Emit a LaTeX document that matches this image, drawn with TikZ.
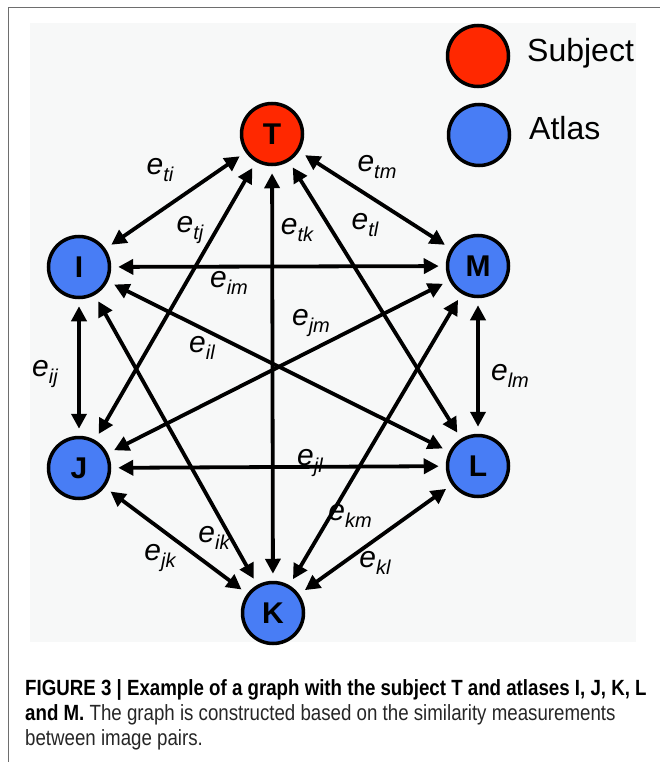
\documentclass[tikz,border=0pt]{standalone}
\usepackage{fontspec}
\setmainfont{Liberation Sans}
\newfontfamily\capfont[FakeStretch=0.85]{Liberation Sans}
\usetikzlibrary{arrows.meta}

\definecolor{subjred}{RGB}{255,40,0}
\definecolor{atlasblue}{RGB}{72,125,245}
\definecolor{panelgrey}{RGB}{247,248,248}
\definecolor{framegrey}{RGB}{110,110,110}

\newcommand{\elab}[1]{\itshape e\raisebox{-7pt}{\fontsize{20}{20}\selectfont #1}}

\tikzset{
  vert/.style={circle, draw, line width=3.5pt, minimum size=61pt, inner sep=0pt,
    font=\fontsize{30}{30}\selectfont\bfseries},
  subj/.style={vert, fill=subjred},
  atlas/.style={vert, fill=atlasblue},
  elabel/.style={inner sep=0pt, font=\fontsize{30}{30}\selectfont},
  edge/.style={line width=3.8pt, {Triangle[length=15pt,width=15pt]}-{Triangle[length=15pt,width=15pt]},
    shorten <=7pt, shorten >=7pt},
  capline/.style={anchor=base west, inner sep=0pt, font=\capfont\fontsize{22}{26}\selectfont}
}

\begin{document}
\begin{tikzpicture}[x=1pt, y=-1pt]
    \useasboundingbox (0,0) rectangle (660,762);
    \draw[framegrey, line width=1.5pt] (8.5,762) -- (8.5,7.5) -- (660,7.5);
    \fill[panelgrey] (30,23) rectangle (636,642);

    \node[subj] (T) at (272,134) {T};
    \node[atlas] (I) at (79,267) {I};
    \node[atlas] (M) at (478,266) {M};
    \node[atlas] (J) at (79,468) {J};
    \node[atlas] (L) at (478,466) {L};
    \node[atlas] (K) at (273,613) {K};

    \node[subj] (legS) at (478,56) {};
    \node[atlas] (legA) at (479,135) {};
    \node[anchor=base west, inner sep=0pt, font=\fontsize{32}{32}\selectfont] (subjtxt) at (527,62) {Subject};
    \node[anchor=base west, inner sep=0pt, font=\fontsize{32}{32}\selectfont] (atlastxt) at (529,140) {Atlas};

    \node[elabel] (eti) at (160,170) {\elab{ti}};
    \node[elabel] (etm) at (377,167) {\elab{tm}};
    \node[elabel] (etj) at (190,230) {\elab{tj}};
    \node[elabel] (etk) at (297,230) {\elab{tk}};
    \node[elabel] (etl) at (365,225) {\elab{tl}};
    \node[elabel] (eim) at (229,283) {\elab{im}};
    \node[elabel] (ejm) at (311,323) {\elab{jm}};
    \node[elabel] (eil) at (202,348) {\elab{il}};
    \node[elabel] (eij) at (45,374) {\elab{ij}};
    \node[elabel] (elm) at (510,376) {\elab{lm}};
    \node[elabel] (ejl) at (310,463) {\elab{jl}};
    \node[elabel] (ekm) at (350,516) {\elab{km}};
    \node[elabel] (eik) at (214,538) {\elab{ik}};
    \node[elabel] (ejk) at (160,558) {\elab{jk}};
    \node[elabel] (ekl) at (375,563) {\elab{kl}};

    \draw[edge] (T) -- (I);
    \draw[edge] (T) -- (J);
    \draw[edge] (T) -- (K);
    \draw[edge] (T) -- (L);
    \draw[edge] (T) -- (M);
    \draw[edge] (I) -- (M);
    \draw[edge] (I) -- (J);
    \draw[edge] (I) -- (L);
    \draw[edge] (I) -- (K);
    \draw[edge] (J) -- (M);
    \draw[edge] (J) -- (L);
    \draw[edge] (J) -- (K);
    \draw[edge] (M) -- (L);
    \draw[edge] (M) -- (K);
    \draw[edge] (L) -- (K);

    \node[capline] (cap1) at (25,695) {\bfseries FIGURE 3 | Example of a graph with the subject T and atlases I, J, K, L};
    \node[capline] (cap2) at (25,720) {\bfseries and M. \mdseries\color{black!85} The graph is constructed based on the similarity measurements};
    \node[capline, text=black!85] (cap3) at (25,745) {between image pairs.};
\end{tikzpicture}
\end{document}
